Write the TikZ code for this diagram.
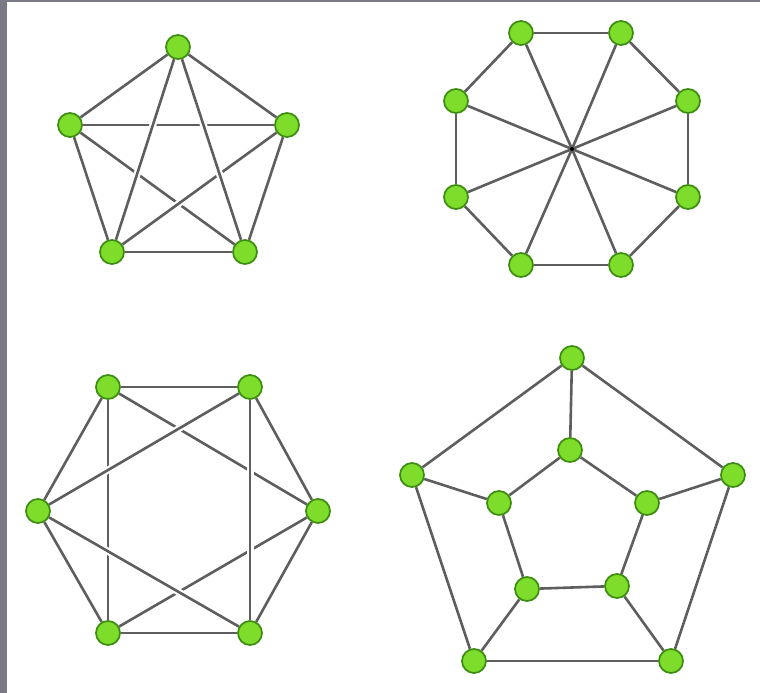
\documentclass[tikz,border=0pt]{standalone}
\usetikzlibrary{backgrounds}
\definecolor{frame}{HTML}{7A7A84}
\definecolor{vfill}{HTML}{7EDC2A}
\definecolor{vline}{HTML}{3C8C12}
\definecolor{eline}{HTML}{5E5E5E}
\tikzset{
 vertex/.style={circle,draw=vline,fill=vfill,line width=1.7pt,minimum size=24pt,inner sep=0pt},
 hub/.style={circle,fill=black,minimum size=4pt,inner sep=0pt},
 edge/.style={draw=eline,line width=2.6pt,preaction={draw=white,line width=7pt,shorten <=4pt,shorten >=4pt}},
 spoke/.style={draw=eline,line width=2.6pt},
}
\begin{document}
\begin{tikzpicture}[x=1pt,y=-1pt]
\useasboundingbox (0,0) rectangle (760,693);
\begin{pgfonlayer}{background}
\fill[white] (0,0) rectangle (760,693);
\fill[frame] (0,0) rectangle (7,693);
\fill[frame] (0,0) rectangle (760,2);
\end{pgfonlayer}

% complete graph on five vertices
\node[vertex] (k1) at (178,47) {};
\node[vertex] (k2) at (287,125) {};
\node[vertex] (k3) at (245,252) {};
\node[vertex] (k4) at (112,252) {};
\node[vertex] (k5) at (70,125) {};
\begin{pgfonlayer}{background}
\draw[edge] (k5) -- (k2);
\draw[edge] (k5) -- (k3);
\draw[edge] (k2) -- (k4);
\draw[edge] (k1) -- (k3);
\draw[edge] (k1) -- (k4);
\foreach \a/\b in {k1/k2,k2/k3,k3/k4,k4/k5,k5/k1}
  \draw[edge] (\a) -- (\b);
\end{pgfonlayer}

% octagon with its four long diagonals
\node[hub] (oc) at (572,149) {};
\foreach \i/\x/\y in {1/521/33,2/621/33,3/688/101,4/688/197,5/621/265,6/521/265,7/456/197,8/456/101}
  \node[vertex] (o\i) at (\x,\y) {};
\begin{pgfonlayer}{background}
\foreach \a/\b in {1/2,2/3,3/4,4/5,5/6,6/7,7/8,8/1}
  \draw[spoke] (o\a) -- (o\b);
\foreach \a in {1,...,8}
  \draw[spoke] (o\a) -- (oc.center);
\end{pgfonlayer}

% hexagon with crossings
\node[vertex] (h1) at (108,387) {};
\node[vertex] (h2) at (250,387) {};
\node[vertex] (h3) at (318,511) {};
\node[vertex] (h4) at (250,633) {};
\node[vertex] (h5) at (108,633) {};
\node[vertex] (h6) at (38,511) {};
\begin{pgfonlayer}{background}
\draw[edge] (h1) -- (h3);
\draw[edge] (h5) -- (h3);
\draw[edge] (h1) -- (h5);
\draw[edge] (h2) -- (h4);
\draw[edge] (h6) -- (h2);
\draw[edge] (h6) -- (h4);
\foreach \a/\b in {h1/h2,h2/h3,h3/h4,h4/h5,h5/h6,h6/h1}
  \draw[edge] (\a) -- (\b);
\end{pgfonlayer}

% two nested pentagons joined by spokes
\node[vertex] (p1) at (572,358) {};
\node[vertex] (p2) at (733,475) {};
\node[vertex] (p3) at (671,661) {};
\node[vertex] (p4) at (474,661) {};
\node[vertex] (p5) at (412,475) {};
\node[vertex] (q1) at (570,450) {};
\node[vertex] (q2) at (647,503) {};
\node[vertex] (q3) at (617,586) {};
\node[vertex] (q4) at (527,589) {};
\node[vertex] (q5) at (499,503) {};
\begin{pgfonlayer}{background}
\foreach \a/\b in {1/2,2/3,3/4,4/5,5/1} {
  \draw[spoke] (p\a) -- (p\b);
  \draw[spoke] (q\a) -- (q\b);
}
\foreach \i in {1,...,5}
  \draw[spoke] (p\i) -- (q\i);
\end{pgfonlayer}
\end{tikzpicture}
\end{document}
